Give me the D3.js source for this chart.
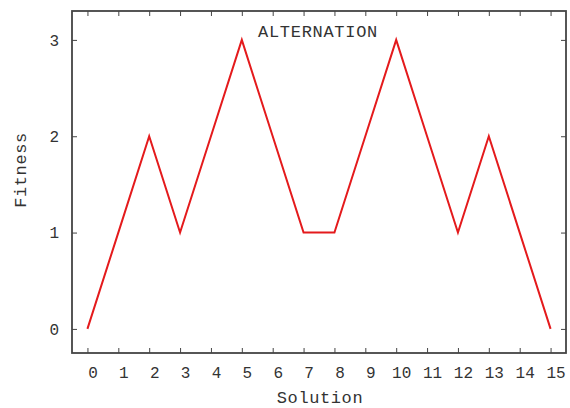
<!DOCTYPE html>
<html>
<head>
<meta charset="utf-8">
<script src="https://cdn.jsdelivr.net/npm/d3@7"></script>
<style>
  html, body { margin: 0; padding: 0; background: #fff; }
  svg { display: block; }
  .mono { font-family: "Liberation Mono", "Courier New", monospace; }
</style>
</head>
<body>
<svg id="chart" width="570" height="408"></svg>
<script>
// Fitness value for each solution index
const solutions = d3.range(0, 16);
const fitness = [0, 1, 2, 1, 2, 3, 2, 1, 1, 2, 3, 2, 1, 2, 1, 0];
const xTicks = d3.range(0, 16);
const yTicks = [0, 1, 2, 3];
const title = "ALTERNATION";
const xLabel = "Solution";
const yLabel = "Fitness";

const W = 570, H = 408;
const frame = { left: 72, right: 566, top: 11, bottom: 353 };

const svg = d3.select("#chart");

const x = d3.scaleLinear().domain([-0.5, 15.5]).range([frame.left, frame.right]);
const y = d3.scaleLinear().domain([-0.25, 3.3]).range([frame.bottom, frame.top]);

const axisColor = "#444";
const textColor = "#333";
const tickLen = 5;

// Bottom axis with labels (shifted slightly right)
const gx = svg.append("g").attr("transform", `translate(0,${frame.bottom})`)
  .call(d3.axisBottom(x).tickValues(xTicks).tickSize(-tickLen).tickPadding(14).tickFormat(d3.format("d")));
gx.select(".domain").remove();
gx.selectAll(".tick line").attr("stroke", axisColor).attr("stroke-width", 1);
gx.selectAll(".tick text").attr("class", "mono").attr("font-size", 16).attr("fill", textColor)
  .attr("dx", 5).attr("font-family", null);

// Top mirror ticks
const gxt = svg.append("g").attr("transform", `translate(0,${frame.top})`)
  .call(d3.axisTop(x).tickValues(xTicks).tickSize(-tickLen).tickFormat(""));
gxt.select(".domain").remove();
gxt.selectAll(".tick line").attr("stroke", axisColor).attr("stroke-width", 1);

// Left axis with labels
const gy = svg.append("g").attr("transform", `translate(${frame.left},0)`)
  .call(d3.axisLeft(y).tickValues(yTicks).tickSize(-tickLen).tickPadding(13).tickFormat(d3.format("d")));
gy.select(".domain").remove();
gy.selectAll(".tick line").attr("stroke", axisColor).attr("stroke-width", 1);
gy.selectAll(".tick text").attr("class", "mono").attr("font-size", 16).attr("fill", textColor)
  .attr("font-family", null);

// Right mirror ticks
const gyr = svg.append("g").attr("transform", `translate(${frame.right},0)`)
  .call(d3.axisRight(y).tickValues(yTicks).tickSize(-tickLen).tickFormat(""));
gyr.select(".domain").remove();
gyr.selectAll(".tick line").attr("stroke", axisColor).attr("stroke-width", 1);

// Plot border
svg.append("rect")
  .attr("x", frame.left).attr("y", frame.top)
  .attr("width", frame.right - frame.left).attr("height", frame.bottom - frame.top)
  .attr("fill", "none").attr("stroke", axisColor).attr("stroke-width", 1.8);

// Fitness line
const line = d3.line().x((d, i) => x(solutions[i])).y(d => y(d));
svg.append("path")
  .datum(fitness)
  .attr("d", line)
  .attr("fill", "none")
  .attr("stroke", "#e41a1c")
  .attr("stroke-width", 2)
  .attr("stroke-linejoin", "miter");

// Title inside the plot
svg.append("text").attr("class", "mono")
  .attr("x", 318).attr("y", 37)
  .attr("text-anchor", "middle")
  .attr("font-size", 17).attr("letter-spacing", 0.7)
  .attr("fill", textColor)
  .text(title);

// Axis titles
svg.append("text").attr("class", "mono")
  .attr("x", 320).attr("y", 403)
  .attr("text-anchor", "middle")
  .attr("font-size", 17).attr("letter-spacing", 0.6)
  .attr("fill", textColor)
  .text(xLabel);

svg.append("text").attr("class", "mono")
  .attr("transform", "translate(26,170) rotate(-90)")
  .attr("text-anchor", "middle")
  .attr("font-size", 17).attr("letter-spacing", 0.6)
  .attr("fill", textColor)
  .text(yLabel);
</script>
</body>
</html>
